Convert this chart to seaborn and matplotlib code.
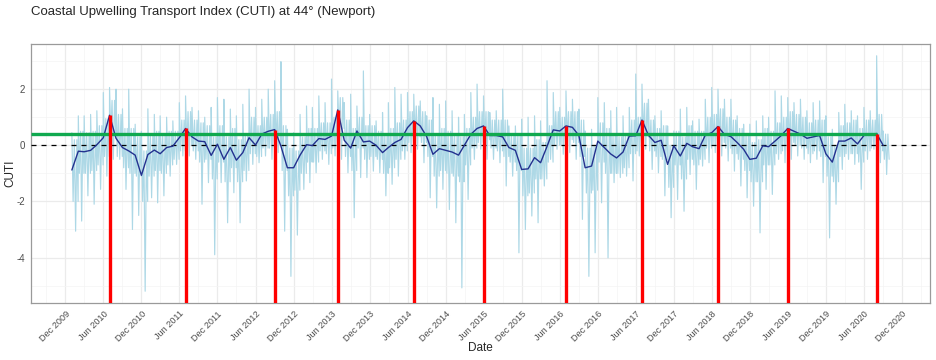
import numpy as np
import pandas as pd
import matplotlib
matplotlib.use("Agg")
import matplotlib.pyplot as plt
import matplotlib.dates as mdates
import seaborn as sns

# monthly mean CUTI, Jan 2010 .. Sep 2020
start_month = "2010-01-01"
monthly_cuti = [
    -0.88, -0.21, -0.23, -0.18, 0.02, 0.27, 1.07, 0.25, -0.08, -0.20, -0.35, -1.07,
    -0.33, -0.17, -0.30, -0.08, -0.03, 0.27, 0.60, 0.30, 0.15, 0.13, -0.36, 0.04,
    -0.50, -0.08, -0.53, -0.26, 0.27, 0.01, 0.40, 0.50, 0.56, -0.03, -0.80, -0.80,
    -0.35, 0.02, -0.01, 0.24, 0.21, 0.33, 1.26, 0.18, -0.10, 0.51, 0.12, 0.15,
    0.00, -0.26, -0.08, 0.10, 0.21, 0.63, 0.87, 0.69, 0.31, -0.32, -0.12, -0.18,
    -0.24, -0.35, 0.00, 0.39, 0.60, 0.69, 0.35, 0.35, 0.30, -0.08, -0.18, -0.86,
    -0.84, -0.44, -0.62, -0.04, 0.55, 0.51, 0.69, 0.64, 0.35, -0.80, -0.74, 0.15,
    -0.08, -0.31, -0.45, -0.24, 0.33, 0.34, 0.90, 0.36, 0.10, 0.18, -0.68, -0.02,
    -0.38, 0.07, -0.05, -0.12, 0.36, 0.45, 0.67, 0.39, 0.31, 0.10, -0.14, -0.50,
    -0.46, -0.02, -0.05, 0.15, 0.35, 0.60, 0.50, 0.40, 0.25, 0.30, 0.35, -0.30,
    -0.60, 0.15, 0.15, 0.26, 0.05, 0.35, 0.38, 0.42, 0.00,
]

# daily values per month: highest spike, lowest spike, and the edges of the dense band
daily_hi = [
    0.45, 1.05, 1.05, 1.10, 1.23, 1.88, 2.06, 2.00, 1.30, 2.00, 0.75, 0.50,
    1.30, 1.10, 1.05, 1.00, 0.87, 1.52, 1.76, 1.35, 1.23, 1.00, 1.35, 1.70,
    1.64, 1.29, 1.05, 1.46, 2.00, 1.35, 1.64, 2.00, 2.30, 2.98, 0.57, 0.45,
    1.10, 1.40, 1.35, 1.76, 1.52, 2.36, 1.94, 1.52, 1.82, 1.40, 2.65, 1.10,
    0.87, 1.17, 1.52, 2.06, 1.82, 1.88, 1.82, 1.58, 1.05, 1.70, 1.46, 1.58,
    1.23, 1.00, 1.10, 1.88, 2.18, 1.76, 1.17, 1.23, 2.00, 0.69, 0.69, 0.93,
    1.00, 1.05, 0.87, 2.30, 1.88, 1.35, 1.94, 1.64, 1.29, 0.51, 0.57, 1.70,
    1.52, 1.23, 1.35, 1.05, 1.35, 2.54, 2.18, 1.64, 1.05, 1.23, 0.69, 0.51,
    1.29, 1.35, 0.87, 0.93, 1.64, 2.06, 2.00, 1.64, 1.64, 1.05, 0.75, 0.75,
    0.87, 1.05, 1.00, 1.94, 1.76, 1.70, 1.52, 1.64, 1.23, 1.52, 1.58, 1.05,
    0.57, 1.17, 1.46, 1.23, 1.05, 1.35, 1.23, 3.19, 0.51,
]
daily_lo = [
    -3.06, -2.70, -1.80, -2.10, -1.57, -1.10, -0.50, -0.50, -1.57, -3.00, -2.50, -5.20,
    -1.87, -2.05, -1.80, -1.10, -0.68, -0.38, -0.38, -0.50, -2.10, -1.33, -3.90, -1.33,
    -2.76, -1.69, -2.76, -1.27, -0.68, -0.62, -0.38, -0.50, -0.26, -3.06, -4.67, -3.20,
    -1.57, -1.33, -0.98, -0.50, -0.68, -0.38, -0.50, -0.98, -2.58, -1.15, -1.15, -0.92,
    -0.98, -1.80, -1.39, -1.10, -0.50, -0.26, -0.14, -0.62, -1.87, -2.23, -1.57, -2.29,
    -2.76, -5.08, -1.93, -0.50, -0.14, -0.50, -0.50, -0.62, -1.45, -1.10, -3.83, -3.00,
    -2.52, -2.76, -1.45, -0.50, -0.14, -0.32, -0.26, -0.50, -2.64, -4.67, -3.83, -2.05,
    -4.01, -1.33, -1.15, -1.10, -1.27, -0.38, -0.14, -0.86, -0.98, -1.80, -2.58, -1.93,
    -2.35, -1.04, -1.57, -0.74, -0.62, -0.26, -0.38, -0.56, -0.92, -1.45, -1.87, -2.17,
    -3.12, -1.57, -1.75, -0.50, -0.62, -0.50, -0.38, -0.50, -0.62, -0.50, -1.33, -3.30,
    -2.10, -0.86, -0.50, -0.68, -1.57, -0.50, -0.14, -0.62, -1.04,
]
band_hi = [
    0.2, 0.5, 0.45, 0.5, 0.7, 0.95, 1.6, 1.1, 0.6, 0.6, 0.3, -0.2,
    0.4, 0.5, 0.4, 0.5, 0.5, 0.9, 1.2, 0.9, 0.8, 0.7, 0.3, 0.7,
    0.3, 0.6, 0.2, 0.4, 1.0, 0.7, 1.0, 1.1, 1.2, 0.7, -0.1, -0.2,
    0.3, 0.6, 0.6, 0.8, 0.8, 1.0, 1.7, 0.9, 0.6, 1.0, 0.7, 0.7,
    0.5, 0.4, 0.6, 0.8, 0.9, 1.2, 1.4, 1.2, 0.9, 0.4, 0.6, 0.5,
    0.4, 0.3, 0.6, 1.0, 1.2, 1.2, 0.9, 0.9, 0.9, 0.4, 0.4, -0.1,
    -0.1, 0.2, 0.1, 0.7, 1.2, 1.0, 1.2, 1.2, 0.9, -0.1, 0.0, 0.8,
    0.6, 0.4, 0.3, 0.4, 0.9, 1.0, 1.5, 0.9, 0.6, 0.7, 0.0, 0.5,
    0.3, 0.7, 0.5, 0.5, 1.0, 1.1, 1.3, 1.0, 0.9, 0.6, 0.4, 0.1,
    0.2, 0.6, 0.5, 0.8, 1.0, 1.2, 1.1, 1.0, 0.8, 0.9, 0.9, 0.3,
    0.0, 0.7, 0.8, 0.9, 0.6, 0.9, 0.9, 1.1, 0.4,
]
band_lo = [
    -2.0, -1.0, -1.0, -0.9, -0.7, -0.4, 0.4, -0.4, -0.8, -1.0, -1.1, -2.0,
    -1.1, -0.9, -1.0, -0.7, -0.5, -0.2, 0.0, -0.2, -0.6, -0.5, -1.2, -0.6,
    -1.3, -0.8, -1.3, -0.9, -0.3, -0.4, -0.1, -0.1, 0.0, -0.9, -1.8, -1.6,
    -1.0, -0.6, -0.6, -0.2, -0.3, -0.1, 0.6, -0.4, -0.9, -0.1, -0.5, -0.4,
    -0.5, -1.0, -0.8, -0.5, -0.2, 0.1, 0.3, 0.1, -0.4, -1.1, -0.9, -1.0,
    -1.1, -1.3, -0.7, -0.1, 0.1, 0.2, -0.1, -0.2, -0.4, -0.6, -0.9, -1.8,
    -1.7, -1.2, -1.2, -0.6, 0.0, 0.0, 0.2, 0.1, -0.4, -1.7, -1.6, -0.6,
    -1.0, -1.0, -1.0, -0.8, -0.3, -0.2, 0.3, -0.2, -0.4, -0.5, -1.5, -0.7,
    -1.2, -0.5, -0.7, -0.5, -0.1, 0.0, 0.1, -0.1, -0.3, -0.5, -0.9, -1.3,
    -1.3, -0.7, -0.7, -0.3, -0.2, 0.1, 0.0, -0.1, -0.3, -0.2, -0.4, -1.1,
    -1.3, -0.4, -0.3, -0.3, -0.6, -0.2, -0.1, -0.2, -0.5,
]

months = pd.date_range(start_month, periods=len(monthly_cuti), freq="MS")
monthly = pd.DataFrame({"date": months, "cuti": monthly_cuti})

rows = []
for m, d0 in enumerate(months):
    vals = [daily_hi[m], band_lo[m], band_hi[m], daily_lo[m], band_hi[m], band_lo[m]]
    nd = d0.days_in_month - 1
    for j, v in enumerate(vals):
        rows.append((d0 + pd.Timedelta(days=round(j * nd / (len(vals) - 1))), v))
daily = pd.DataFrame(rows, columns=["date", "cuti"])

# yearly peaks of the monthly mean
peaks = monthly.loc[monthly.groupby(monthly.date.dt.year)["cuti"].idxmax()]
last_peak = peaks.iloc[-1]

sns.set_style("white")
plt.rcParams["font.family"] = ["Liberation Sans", "DejaVu Sans"]
plt.rcParams["axes.unicode_minus"] = False

fig = plt.figure(figsize=(9.36, 3.6), dpi=100)
ax = fig.add_axes([31 / 936, 1 - 303 / 360, 899 / 936, 259 / 360])

span = daily.date.max() - daily.date.min()
x0, x1 = daily.date.min() - span * 0.05, daily.date.max() + span * 0.05
yr = daily.cuti.max() - daily.cuti.min()
y0, y1 = daily.cuti.min() - yr * 0.05, daily.cuti.max() + yr * 0.05

sns.lineplot(data=daily, x="date", y="cuti", color="#add8e6", linewidth=0.85,
             estimator=None, ax=ax, zorder=2)
ax.axhline(0, color="black", linestyle=(0, (4, 4)), linewidth=0.9, zorder=3)
sns.lineplot(data=monthly, x="date", y="cuti", color="#23318f", linewidth=1.0,
             estimator=None, ax=ax, zorder=4)
ax.hlines(last_peak.cuti, x0, last_peak.date, color="#10a94f", linewidth=2.4, zorder=5)
ax.vlines(peaks.date, y0, peaks.cuti, color="#ff0000", linewidth=2.4, zorder=6)

ax.set_xlim(x0, x1)
ax.set_ylim(y0, y1)

majors = pd.date_range("2009-12-01", "2020-12-01", freq="6MS")
mnum = mdates.date2num(majors)
step = mnum[1] - mnum[0]
minors = np.concatenate([[mnum[0] - step / 2], (mnum[:-1] + mnum[1:]) / 2, [mnum[-1] + step / 2]])
ax.set_xticks(majors)
ax.set_xticklabels([d.strftime("%b %Y") for d in majors], rotation=45, ha="right",
                   rotation_mode="anchor", fontsize=6.6, color="#4d4d4d")
ax.set_xticks(minors, minor=True)
ax.set_yticks([-4, -2, 0, 2])
ax.set_yticks([-5, -3, -1, 1, 3], minor=True)
ax.tick_params(axis="y", labelsize=7, labelcolor="#4d4d4d")
ax.tick_params(which="major", length=3, width=0.6, color="#555555", pad=1.5)
ax.tick_params(which="minor", length=0)

ax.grid(True, which="major", color="#ebebeb", linewidth=0.9, zorder=0)
ax.grid(True, which="minor", color="#f4f4f4", linewidth=0.5, zorder=0)
ax.set_axisbelow(True)
for s in ax.spines.values():
    s.set_color("#9a9a9a")
    s.set_linewidth(0.9)

ax.set_xlabel("Date", fontsize=8.5)
ax.xaxis.set_label_coords(0.5, -(342 - 303) / 259)
ax.set_ylabel("CUTI", fontsize=8.5)
ax.yaxis.set_label_coords(-(31 - 16) / 899, 0.5)
fig.text(31 / 936, 1 - 12 / 360, "Coastal Upwelling Transport Index (CUTI) at 44\u00b0 (Newport)",
         fontsize=9.5, va="center", ha="left")

fig.savefig("out.png", dpi=100)
